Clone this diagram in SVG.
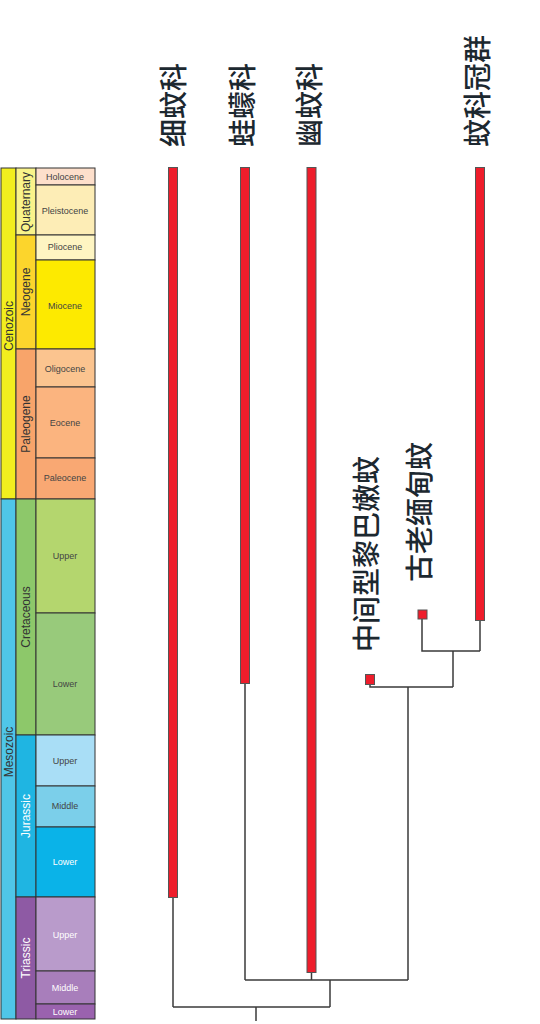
<svg xmlns="http://www.w3.org/2000/svg" width="540" height="1024" viewBox="0 0 540 1024">
<style>
.cell{stroke:#333;stroke-width:1}
.ep{font-family:"Liberation Sans",Arial,sans-serif;font-size:9px;fill:#444;text-anchor:middle;dominant-baseline:central}
.epw{font-family:"Liberation Sans",Arial,sans-serif;font-size:9px;fill:#fff;text-anchor:middle;dominant-baseline:central}
.pr{font-family:"Liberation Sans",Arial,sans-serif;font-size:12px;fill:#333;text-anchor:middle;dominant-baseline:central}
.prw{font-family:"Liberation Sans",Arial,sans-serif;font-size:12px;fill:#fff;text-anchor:middle;dominant-baseline:central}
.lbl{font-family:"Noto Sans CJK SC",sans-serif;font-size:28px;font-weight:500;fill:#1c2830;text-anchor:start;dominant-baseline:central}
.bar{fill:#EE1D2B;stroke:#555;stroke-width:1}
.ln{stroke:#3a3a3a;stroke-width:1.5;fill:none}
</style>
<rect width="540" height="1024" fill="#fff"/>
<g id="timescale">
  <rect class="cell" x="1" y="168" width="15" height="331" fill="#F2EE1E"/>
  <rect class="cell" x="1" y="499" width="15" height="520" fill="#4FC6E8"/>
  <text class="pr" transform="translate(9,326) rotate(-90)">Cenozoic</text>
  <text class="pr" transform="translate(9,752) rotate(-90)">Mesozoic</text>
  <rect class="cell" x="16" y="168" width="20" height="67" fill="#F9F38A"/>
  <rect class="cell" x="16" y="235" width="20" height="114" fill="#FCD52C"/>
  <rect class="cell" x="16" y="349" width="20" height="150" fill="#F8A46A"/>
  <rect class="cell" x="16" y="499" width="20" height="236" fill="#8DC86A"/>
  <rect class="cell" x="16" y="735" width="20" height="162" fill="#1FB5E2"/>
  <rect class="cell" x="16" y="897" width="20" height="122" fill="#8E5AA4"/>
  <text class="pr" transform="translate(26,202) rotate(-90)">Quaternary</text>
  <text class="pr" transform="translate(26,292) rotate(-90)">Neogene</text>
  <text class="pr" transform="translate(26,424) rotate(-90)">Paleogene</text>
  <text class="pr" transform="translate(26,617) rotate(-90)">Cretaceous</text>
  <text class="prw" transform="translate(26,816) rotate(-90)">Jurassic</text>
  <text class="prw" transform="translate(26,958) rotate(-90)">Triassic</text>
  <rect class="cell" x="36" y="168" width="59" height="17" fill="#FDDFCB"/>
  <rect class="cell" x="36" y="185" width="59" height="50" fill="#FDEDB6"/>
  <rect class="cell" x="36" y="235" width="59" height="25" fill="#FEF5C2"/>
  <rect class="cell" x="36" y="260" width="59" height="89" fill="#FDEA00"/>
  <rect class="cell" x="36" y="349" width="59" height="38" fill="#FBC48F"/>
  <rect class="cell" x="36" y="387" width="59" height="71" fill="#FBB47F"/>
  <rect class="cell" x="36" y="458" width="59" height="41" fill="#F9A873"/>
  <rect class="cell" x="36" y="499" width="59" height="114" fill="#B4D66E"/>
  <rect class="cell" x="36" y="613" width="59" height="122" fill="#98CA7B"/>
  <rect class="cell" x="36" y="735" width="59" height="51" fill="#A9DEF6"/>
  <rect class="cell" x="36" y="786" width="59" height="41" fill="#7BCFEA"/>
  <rect class="cell" x="36" y="827" width="59" height="70" fill="#0AB3E8"/>
  <rect class="cell" x="36" y="897" width="59" height="74" fill="#B99BCB"/>
  <rect class="cell" x="36" y="971" width="59" height="33" fill="#A87EBB"/>
  <rect class="cell" x="36" y="1004" width="59" height="15" fill="#9A62AE"/>
  <text class="ep" x="65" y="177">Holocene</text>
  <text class="ep" x="65" y="211">Pleistocene</text>
  <text class="ep" x="65" y="247">Pliocene</text>
  <text class="ep" x="65" y="306">Miocene</text>
  <text class="ep" x="65" y="369">Oligocene</text>
  <text class="ep" x="65" y="423">Eocene</text>
  <text class="ep" x="65" y="478">Paleocene</text>
  <text class="ep" x="65" y="556">Upper</text>
  <text class="ep" x="65" y="684">Lower</text>
  <text class="ep" x="65" y="761">Upper</text>
  <text class="ep" x="65" y="806">Middle</text>
  <text class="epw" x="65" y="862">Lower</text>
  <text class="epw" x="65" y="935">Upper</text>
  <text class="epw" x="65" y="988">Middle</text>
  <text class="epw" x="65" y="1012">Lower</text>
</g>
<g id="connectors">
  <path class="ln" d="M173 897 V1007"/>
  <path class="ln" d="M245 683 V980"/>
  <path class="ln" d="M311.5 972 V980"/>
  <path class="ln" d="M480 620 V651"/>
  <path class="ln" d="M422 619 V651 H480"/>
  <path class="ln" d="M453 651 V687"/>
  <path class="ln" d="M370 684 V687 H453"/>
  <path class="ln" d="M408 687 V980"/>
  <path class="ln" d="M245 980 H408"/>
  <path class="ln" d="M330 980 V1007"/>
  <path class="ln" d="M173 1007 H330"/>
  <path class="ln" d="M256 1007 V1021"/>
</g>
<g id="node-xiwenke">
  <rect class="bar" x="168.5" y="167.5" width="9" height="730"/>
  <text class="lbl" transform="translate(172,147) rotate(-90)">细蚊科</text>
</g>
<g id="node-wamengke">
  <rect class="bar" x="240.5" y="167.5" width="9" height="516"/>
  <text class="lbl" transform="translate(241,147) rotate(-90)">蛙蠓科</text>
</g>
<g id="node-youwenke">
  <rect class="bar" x="307" y="167.5" width="9" height="805"/>
  <text class="lbl" transform="translate(308,147) rotate(-90)">幽蚊科</text>
</g>
<g id="node-crown">
  <rect class="bar" x="475.5" y="167.5" width="9" height="453"/>
  <text class="lbl" transform="translate(476,147) rotate(-90)">蚊科冠群</text>
</g>
<g id="node-burmese">
  <rect class="bar" x="418" y="610" width="9" height="9"/>
  <text class="lbl" transform="translate(418,582) rotate(-90)">古老缅甸蚊</text>
</g>
<g id="node-lebanese">
  <rect class="bar" x="365.5" y="674.5" width="9" height="10"/>
  <text class="lbl" transform="translate(365,652) rotate(-90)">中间型黎巴嫩蚊</text>
</g>
</svg>
